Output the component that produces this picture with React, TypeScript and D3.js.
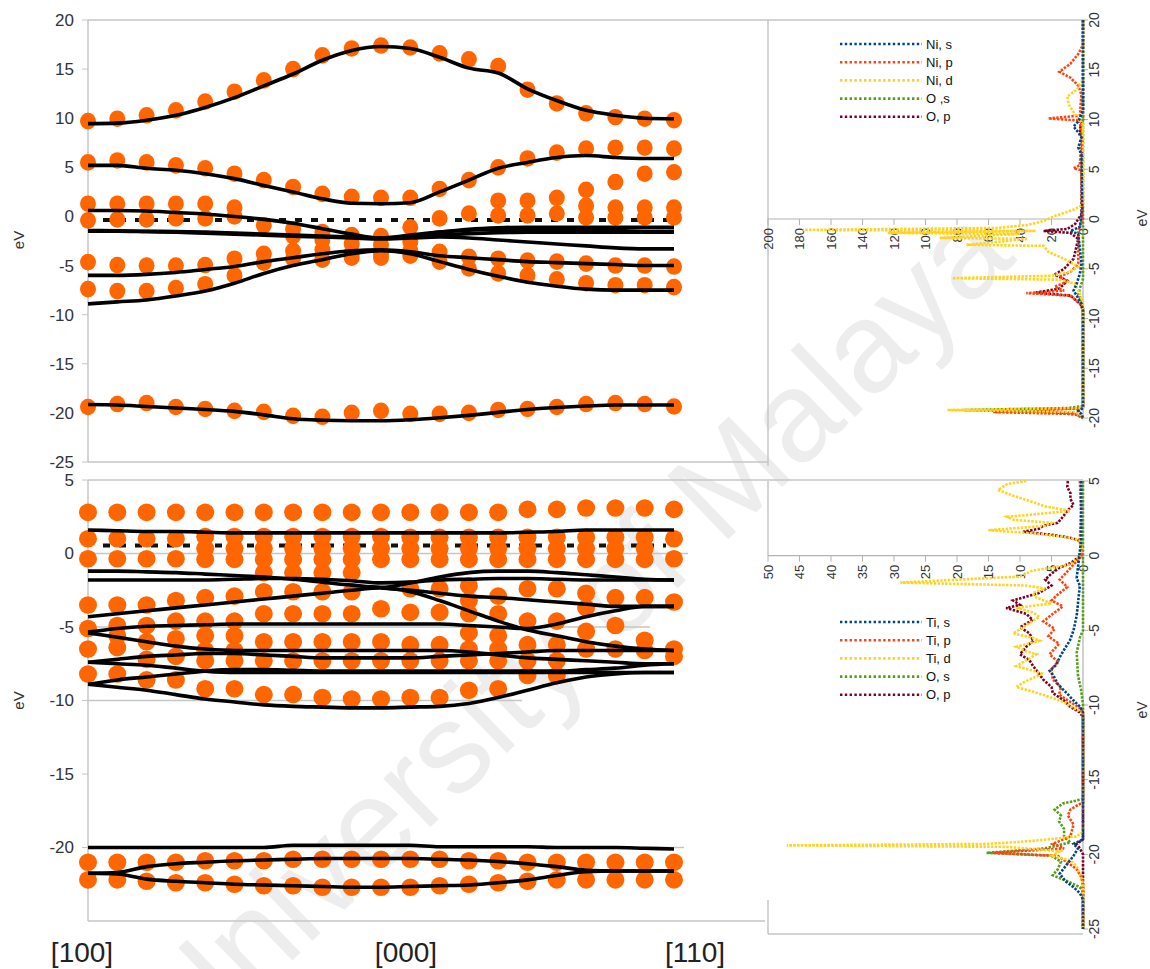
import React from "react";
import * as d3 from "d3";

// ---------------- data ----------------
const pathLabels = ["[100]", "[000]", "[110]"];
const pathLabelX = [82, 406, 695];
const kCount = 21;

const nioTicks = [20, 15, 10, 5, 0, -5, -10, -15, -20, -25];
const tioTicks = [5, 0, -5, -10, -15, -20];

// NiO band structure (top) - orange dots
const nioDotA = [9.7, 9.95, 10.3, 10.8, 11.7, 12.7, 13.85, 15.0, 16.4, 17.1, 17.4, 17.2, 16.6, 16.0, 15.3, 12.9, 11.5, 10.5, 10.1, 9.95, 9.8];
const nioDotB = [5.5, 5.7, 5.5, 5.2, 4.9, 4.35, 3.7, 3.0, 2.3, 2.0, 1.9, 1.9, 2.8, 3.7, 5.0, 5.9, 6.5, 6.9, 7.0, 7.0, 6.9];
const nioDotC = [1.3, 1.3, 1.3, 1.3, 1.3, 0.9, -0.9, -1.3, -1.6, -1.9, -2.0, -1.1, -0.2, 0.3, 1.6, 1.6, 1.9, 2.7, 3.5, 4.35, 4.5];
const nioDotD = [-0.4, -0.3, -0.3, -0.2, -0.2, 0.0, null, -2.0, -2.4, -2.8, -2.9, -2.6, null, null, 0.1, 0.1, 0.3, 1.1, 0.9, 0.9, 0.9];
const nioDotE = [null, null, null, null, null, null, null, null, null, null, null, null, null, null, null, null, null, -0.1, -0.1, -0.1, -0.1];
const nioDotF = [-4.65, -4.95, -5.0, -5.0, -4.95, -4.3, -3.8, -3.5, -3.4, -3.7, -3.7, -3.5, -3.6, -4.1, -4.3, -4.5, -4.6, -4.8, -5.0, -5.0, -5.1];
const nioDotG = [-7.4, -7.6, -7.6, -7.3, -6.9, -6.0, -4.7, -4.3, -4.4, -4.2, -4.2, -4.0, -4.6, -5.3, -5.8, -6.0, -6.4, -6.8, -7.0, -7.0, -7.2];
const nioDotH = [-19.4, -19.1, -19.0, -19.4, -19.6, -19.8, -19.9, -20.3, -20.4, -20.0, -19.8, -20.1, -20.1, -20.0, -19.7, -19.6, -19.4, -19.1, -19.0, -19.1, -19.35];

// NiO band structure (top) - black lines
const nioLineA = [9.45, 9.5, 9.8, 10.3, 11.1, 12.1, 13.3, 14.5, 15.9, 16.9, 17.3, 17.1, 16.2, 15.1, 14.6, 13.0, 11.8, 10.8, 10.3, 10.0, 9.95];
const nioLineB = [5.2, 5.2, 4.9, 4.7, 4.35, 3.85, 3.15, 2.5, 1.8, 1.35, 1.3, 1.4, 2.5, 3.7, 4.9, 5.5, 6.0, 6.2, 6.0, 5.9, 5.9];
const nioLineC = [0.6, 0.6, 0.55, 0.4, 0.25, 0.0, -0.3, -0.7, -1.25, -1.8, -2.2, -2.0, -1.6, -1.3, -1.15, -1.1, -1.1, -1.1, -1.1, -1.1, -1.1];
const nioLineD = [-1.43, -1.45, -1.5, -1.55, -1.6, -1.7, -1.8, -1.9, -2.0, -2.1, -2.2, -2.1, -1.9, -1.75, -1.65, -1.6, -1.6, -1.6, -1.6, -1.6, -1.6];
const nioLineE = [-1.5, -1.5, -1.55, -1.6, -1.7, -1.8, -1.9, -2.0, -2.1, -2.2, -2.3, -2.2, -2.1, -2.2, -2.4, -2.6, -2.8, -3.0, -3.2, -3.3, -3.3];
const nioLineK = [null, null, null, null, null, null, null, null, null, -2.0, -2.2, -1.9, -1.6, -1.4, -1.3, -1.3, -1.35, -1.4, -1.45, -1.5, -1.5];
const nioLineF = [-6.0, -6.0, -5.9, -5.7, -5.4, -5.1, -4.6, -4.2, -3.8, -3.5, -3.4, -3.6, -4.0, -4.2, -4.4, -4.6, -4.7, -4.8, -4.9, -5.0, -5.0];
const nioLineG = [-8.9, -8.7, -8.5, -8.1, -7.6, -6.8, -5.8, -5.0, -4.4, -3.8, -3.5, -3.8, -4.6, -5.4, -6.1, -6.7, -7.1, -7.4, -7.5, -7.5, -7.5];
const nioLineH = [-19.15, -19.2, -19.35, -19.5, -19.65, -19.85, -20.2, -20.6, -20.75, -20.8, -20.8, -20.7, -20.5, -20.25, -19.95, -19.65, -19.45, -19.3, -19.2, -19.2, -19.2];
const nioFermi = -0.35;

// TiO2 band structure (bottom) - orange dots
const tioDotA = [2.8, 2.8, 2.8, 2.8, 2.8, 2.8, 2.8, 2.8, 2.8, 2.8, 2.8, 2.8, 2.8, 2.8, 2.8, 3.0, 3.0, 3.1, 3.1, 3.1, 3.0];
const tioDotB = [1.0, 1.0, 1.0, 1.0, 1.15, 1.15, 1.15, 1.15, 1.15, 1.15, 1.15, 1.1, 1.1, 1.1, 1.1, 1.1, 1.1, 1.1, 1.1, 1.1, 1.0];
const tioDotC = [null, null, null, null, 0.35, 0.35, 0.35, 0.35, 0.35, 0.35, 0.35, 0.35, 0.35, 0.35, 0.35, 0.35, 0.35, 0.35, 0.35, 0.35, null];
const tioDotD = [-0.36, -0.36, -0.36, -0.36, -0.4, -0.4, -0.4, -0.4, -0.4, -0.4, -0.4, -0.4, -0.4, -0.4, -0.4, -0.4, -0.4, -0.4, -0.4, -0.4, -0.36];
const tioDotE = [null, null, null, null, null, null, -1.3, -1.3, -1.3, -1.3, null, null, null, null, null, null, null, null, null, null, null];
const tioDotF = [-3.5, -3.5, -3.5, -3.2, -3.0, -2.9, -2.6, -2.6, -2.6, -2.6, -3.76, -2.4, -2.4, -2.2, -2.9, -2.4, -2.4, -2.7, -3.0, -3.0, -3.3];
const tioDotG = [-5.1, -4.9, -4.9, -4.6, -4.6, -4.6, -4.1, -4.1, -4.1, -4.1, null, -4.0, -4.0, -3.2, -4.1, -4.6, -4.6, -3.7, -4.9, -5.9, -6.5];
const tioDotH = [-6.5, -5.6, -6.0, -5.8, -5.6, -5.6, -6.0, -6.0, -6.0, -6.0, -6.0, -6.2, -6.2, -4.1, -5.6, -6.2, -6.2, -5.3, -6.5, -6.6, -7.0];
const tioDotI = [null, -6.4, -7.2, -7.0, -6.6, -6.6, -7.3, -7.3, -7.3, -7.3, -7.3, -7.3, -7.3, -5.4, -6.5, -7.3, -7.3, -6.5, null, null, null];
const tioDotJ = [-8.2, -8.2, -8.6, -8.6, -7.3, -7.3, -9.6, -9.6, -9.8, -9.9, -9.9, -9.8, -9.8, -6.5, -7.3, -8.3, -8.3, null, null, null, null];
const tioDotK = [null, null, null, null, -9.2, -9.2, null, null, null, null, null, null, null, -7.3, -9.2, null, null, null, null, null, null];
const tioDotL = [null, null, null, null, null, null, null, null, null, null, null, null, null, -9.3, null, null, null, null, null, null, null];
const tioDotM = [-21.0, -21.0, -21.0, -21.0, -20.9, -20.9, -20.9, -20.8, -20.8, -20.8, -20.8, -20.8, -20.8, -20.9, -20.9, -21.0, -21.0, -21.0, -21.0, -21.0, -21.0];
const tioDotN = [-22.2, -22.2, -22.3, -22.4, -22.4, -22.5, -22.6, -22.6, -22.7, -22.7, -22.7, -22.7, -22.6, -22.5, -22.4, -22.3, -22.2, -22.2, -22.2, -22.2, -22.2];

// TiO2 band structure (bottom) - black lines
const tioLine1 = [1.6, 1.55, 1.5, 1.5, 1.45, 1.4, 1.4, 1.4, 1.4, 1.4, 1.4, 1.4, 1.4, 1.4, 1.4, 1.45, 1.5, 1.6, 1.6, 1.6, 1.6];
const tioLine2 = [-1.2, -1.2, -1.25, -1.3, -1.4, -1.5, -1.6, -1.75, -1.95, -2.15, -2.3, -2.0, -1.6, -1.3, -1.2, -1.2, -1.3, -1.45, -1.6, -1.75, -1.8];
const tioLine3 = [-1.8, -1.8, -1.8, -1.8, -1.8, -1.75, -1.7, -1.7, -1.75, -1.85, -2.0, -1.95, -1.8, -1.75, -1.7, -1.7, -1.75, -1.8, -1.8, -1.8, -1.8];
const tioLine4 = [-4.3, -4.1, -3.9, -3.7, -3.5, -3.3, -3.1, -2.9, -2.7, -2.5, -2.35, -2.6, -3.2, -3.9, -4.6, -5.2, -5.6, -6.0, -6.3, -6.5, -6.6];
const tioLine5 = [null, null, null, null, null, null, null, null, null, null, -2.35, -2.5, -2.7, -2.9, -3.0, -3.15, -3.3, -3.45, -3.6, -3.6, -3.6];
const tioLine6 = [-5.35, -5.1, -4.95, -4.9, -4.85, -4.8, -4.8, -4.8, -4.8, -4.8, -4.8, -4.8, -4.8, -4.9, -5.0, -5.1, -4.8, -4.3, -3.9, -3.6, -3.6];
const tioLine7 = [-5.4, -5.7, -6.0, -6.3, -6.5, -6.6, -6.6, -6.6, -6.6, -6.6, -6.6, -6.6, -6.6, -6.7, -6.9, -7.1, -7.2, -7.3, -7.4, -7.5, -7.5];
const tioLine8 = [-7.4, -7.2, -7.0, -6.9, -6.8, -6.8, -6.9, -7.0, -7.1, -7.1, -7.1, -7.1, -7.0, -6.9, -6.8, -6.7, -6.6, -6.6, -6.6, -6.6, -6.6];
const tioLine9 = [-7.4, -7.5, -7.6, -7.8, -8.0, -8.1, -8.1, -8.1, -8.1, -8.1, -8.1, -8.1, -8.1, -8.1, -8.1, -8.1, -8.1, -8.1, -8.1, -8.1, -8.1];
const tioLine10 = [-8.9, -8.6, -8.4, -8.2, -8.0, -7.9, -7.9, -7.95, -8.0, -8.0, -8.0, -8.0, -8.0, -8.0, -8.0, -8.0, -8.0, -7.9, -7.8, -7.6, -7.5];
const tioLine11 = [-8.9, -9.1, -9.3, -9.6, -9.9, -10.1, -10.3, -10.4, -10.45, -10.5, -10.5, -10.45, -10.4, -10.2, -9.8, -9.3, -8.8, -8.4, -8.2, -8.1, -8.1];
const tioLine12 = [-20.0, -20.0, -20.0, -20.0, -20.0, -20.0, -20.0, -19.85, -19.85, -19.85, -19.85, -19.85, -19.95, -19.95, -19.95, -19.95, -20.0, -20.0, -20.0, -20.05, -20.1];
const tioLine13 = [-21.75, -21.7, -21.3, -21.1, -21.0, -20.9, -20.85, -20.8, -20.75, -20.75, -20.75, -20.75, -20.8, -20.85, -20.95, -21.1, -21.3, -21.55, -21.6, -21.6, -21.6];
const tioLine14 = [-21.75, -21.8, -22.15, -22.3, -22.4, -22.5, -22.55, -22.6, -22.65, -22.7, -22.7, -22.65, -22.6, -22.55, -22.4, -22.2, -21.9, -21.65, -21.6, -21.6, -21.6];
const tioFermi = 0.55;

// NiO PDOS (top right) as [eV, DOS]
const nioLegend = ["Ni, s", "Ni, p", "Ni, d", "O ,s", "O, p"];
const nioDosTicks = [200, 180, 160, 140, 120, 100, 80, 60, 40, 20, 0];
const nioEvTicks = [20, 15, 10, 5, 0, -5, -10, -15, -20];
const nioDosNiS = [[20, 0], [11, 0], [10.5, 1], [9.8, 3], [9.3, 6], [8.7, 3], [8.2, 1], [7.2, 3], [6.5, 1], [1, 0.5], [-0.8, 2], [-1.2, 8], [-1.5, 3], [-4.5, 1], [-5.5, 2], [-6.5, 4], [-7.2, 6], [-7.7, 4], [-8.5, 1], [-9.2, 0], [-19, 0], [-19.3, 3], [-19.6, 1], [-20, 0]];
const nioDosNiP = [[20, 0], [17.5, 0], [16.6, 3], [15.6, 8], [14.8, 15], [14.2, 8], [13.4, 3], [12.5, 1], [10.4, 2], [10.1, 22], [9.9, 2], [8, 1], [5.4, 2], [5.1, 6], [4.9, 1], [0, 0.5], [-1.2, 3], [-4.5, 3], [-5.3, 8], [-5.8, 15], [-6.3, 10], [-6.8, 18], [-7.2, 12], [-7.45, 36], [-7.7, 8], [-8.5, 2], [-9.2, 0], [-19, 0], [-19.2, 30], [-19.4, 57], [-19.6, 5], [-20, 0]];
const nioDosNiD = [[20, 0], [14, 0], [13, 4], [12.3, 10], [11.5, 9], [10.5, 5], [9.5, 0], [1.5, 0], [1.0, 5], [0.6, 12], [0.3, 18], [-0.2, 25], [-0.6, 35], [-0.9, 55], [-1.1, 178], [-1.2, 30], [-1.4, 124], [-1.5, 40], [-1.9, 91], [-2.0, 35], [-2.6, 74], [-2.7, 25], [-3.3, 22], [-4.0, 12], [-4.8, 3], [-5.3, 8], [-5.7, 20], [-5.95, 83], [-6.1, 15], [-6.5, 5], [-7.5, 2], [-8.5, 0], [-19, 0], [-19.2, 86], [-19.4, 5], [-19.8, 0], [-20, 0]];
const nioDosOS = [[20, 0], [-6, 0], [-7, 2], [-7.6, 3], [-8.2, 1], [-9, 0], [-18.8, 0], [-19.0, 10], [-19.2, 76], [-19.4, 20], [-19.7, 3], [-20, 0]];
const nioDosOP = [[20, 0], [10, 0], [9, 2], [8, 0.5], [0.5, 1], [-0.5, 5], [-1.0, 10], [-1.2, 25], [-1.4, 8], [-2, 3], [-4, 6], [-5, 12], [-5.6, 18], [-6.2, 10], [-7.0, 15], [-7.4, 30], [-7.7, 8], [-8.5, 2], [-9, 0], [-19, 0], [-19.3, 40], [-19.5, 5], [-20, 0]];

// TiO2 PDOS (bottom right) as [eV, DOS]
const tioLegend = ["Ti, s", "Ti, p", "Ti, d", "O, s", "O, p"];
const tioDosTicks = [50, 45, 40, 35, 30, 25, 20, 15, 10, 5, 0];
const tioEvTicks = [5, 0, -5, -10, -15, -20, -25];
const tioDosTiS = [[5, 0.3], [1, 0.3], [-1.5, 1], [-2, 0.5], [-4, 1], [-5, 1.5], [-5.7, 2.1], [-6.3, 3], [-6.8, 3.7], [-7.3, 4.2], [-7.7, 5.3], [-8.1, 4.6], [-8.6, 4], [-9.2, 2.6], [-9.7, 1.5], [-10.1, 0.5], [-10.5, 0], [-19, 0], [-19.3, 1.5], [-19.6, 0.8], [-20.1, 1.5], [-20.7, 2.6], [-21.3, 3.7], [-21.8, 2.8], [-22.2, 1.5], [-22.6, 0.5], [-23, 0], [-25, 0]];
const tioDosTiP = [[5, 0.5], [3, 0.3], [1, 0.5], [0, 0.2], [-0.6, 1.5], [-1.2, 2.8], [-1.6, 3.7], [-2.1, 2.5], [-2.6, 4], [-3.0, 5], [-3.4, 3.2], [-3.8, 4.5], [-4.4, 6.3], [-4.9, 4.5], [-5.4, 5.5], [-5.9, 3.8], [-6.6, 5.3], [-7.1, 4], [-7.6, 5], [-8.3, 4.8], [-8.8, 3.5], [-9.3, 3.8], [-9.8, 2], [-10.2, 0.5], [-10.5, 0], [-16.5, 0], [-17.0, 2], [-17.4, 2.4], [-18, 1.5], [-18.8, 2], [-19.3, 4.8], [-19.6, 3], [-19.9, 14.3], [-20.1, 4], [-20.5, 2.6], [-21, 1], [-21.5, 0.3], [-22, 0], [-25, 0]];
const tioDosTiD = [[5, 9], [4.8, 12], [4.4, 13.5], [4.0, 11], [3.6, 8], [3.3, 6], [3.0, 2], [2.8, 7], [2.6, 12], [2.4, 11], [2.2, 5], [2.0, 6], [1.7, 15], [1.5, 8], [1.2, 2], [1.0, 0.5], [0.5, 0.2], [0, 0.5], [-0.6, 2], [-1.0, 8], [-1.4, 10], [-1.8, 29], [-2.0, 9], [-2.2, 6], [-2.5, 8], [-2.8, 7.4], [-3.2, 5], [-3.5, 10.6], [-3.8, 8], [-4.1, 6.9], [-4.5, 8.5], [-4.8, 9.5], [-5.2, 11.1], [-5.5, 8], [-5.7, 6.9], [-6.1, 10.6], [-6.4, 9], [-6.6, 7.4], [-7.0, 9], [-7.4, 10.6], [-7.7, 8], [-7.9, 6.3], [-8.2, 8], [-8.5, 9.5], [-8.8, 10.6], [-9.1, 8], [-9.4, 5.8], [-9.8, 3], [-10.1, 2], [-10.4, 0.5], [-10.6, 0], [-18.5, 0], [-18.8, 1], [-19.1, 8], [-19.3, 15], [-19.4, 47], [-19.5, 12], [-19.8, 3.7], [-20.1, 5], [-20.4, 2], [-20.8, 1], [-21.5, 0.3], [-22, 0], [-25, 0]];
const tioDosOS = [[5, 0], [-5, 0], [-5.5, 0.5], [-6.5, 1], [-8, 0.8], [-9, 0.3], [-10, 0], [-16.3, 0], [-16.6, 3.2], [-17.0, 4.5], [-17.4, 3.5], [-17.8, 3.8], [-18.3, 3], [-18.8, 3], [-19.2, 2], [-19.6, 6], [-19.9, 15.3], [-20.1, 5], [-20.5, 3.5], [-21.0, 4], [-21.4, 4.8], [-21.8, 2.5], [-22.2, 0.5], [-22.5, 0], [-25, 0]];
const tioDosOP = [[5, 2.4], [4.6, 2.5], [4.2, 2], [3.8, 2], [3.4, 1.5], [3.0, 2.5], [2.6, 3.2], [2.2, 4], [2.0, 6.3], [1.8, 7], [1.6, 9.5], [1.4, 5], [1.2, 2], [1.0, 0.5], [0.5, 0.3], [0, 0.3], [-0.5, 2], [-0.8, 3.7], [-1.2, 5], [-1.6, 6], [-2.0, 5], [-2.5, 7], [-3.0, 11.1], [-3.3, 10], [-3.5, 12.2], [-3.9, 9], [-4.3, 8], [-4.8, 10], [-5.2, 8.5], [-5.7, 7.9], [-6.1, 9], [-6.6, 10], [-7.0, 8.5], [-7.4, 7.9], [-7.9, 7], [-8.3, 6.3], [-8.8, 5], [-9.2, 4.8], [-9.7, 3], [-10.1, 2.1], [-10.5, 0.5], [-10.8, 0], [-19, 0], [-19.3, 1], [-19.6, 0.5], [-20, 0], [-25, 0]];

const dosColors = ["#004586", "#ff420e", "#ffd320", "#579d1c", "#7e0021"];
const ORANGE = "#ff6600";
const FONT = "Liberation Sans, Arial, sans-serif";
const GRID = "#c6c6c6";

type Pt = number[];

export default function App() {
  const xBand = d3.scaleLinear().domain([0, kCount - 1]).range([88, 674]);
  const yNio = d3.scaleLinear().domain([-25, 20]).range([462, 20]);
  const yTio = d3.scaleLinear().domain([-25, 5]).range([921, 480]);
  const nioDosX = d3.scaleLinear().domain([0, 200]).range([1083, 768]);
  const nioDosY = d3.scaleLinear().domain([-20, 20]).range([418, 20]);
  const tioDosX = d3.scaleLinear().domain([0, 50]).range([1083, 768]);
  const tioDosY = d3.scaleLinear().domain([-25, 5]).range([929, 481]);

  const bandPath = (vals: (number | null)[], y: d3.ScaleLinear<number, number>) =>
    d3
      .line<number | null>()
      .defined((d) => d != null)
      .x((_, i) => xBand(i))
      .y((d) => y(d as number))
      .curve(d3.curveMonotoneX)(vals) || "";

  const dosPath = (pts: Pt[], sx: any, sy: any) =>
    d3
      .line<Pt>()
      .x((d) => sx(d[1]))
      .y((d) => sy(d[0]))(pts) || "";

  const dots = (vals: (number | null)[], y: any, rx: number, ry: number, key: string) =>
    vals.map((v, i) =>
      v == null ? null : (
        <ellipse key={key + i} cx={xBand(i)} cy={y(v)} rx={rx} ry={ry} fill={ORANGE} />
      )
    );

  const nioDots = [nioDotA, nioDotB, nioDotC, nioDotD, nioDotE, nioDotF, nioDotG, nioDotH];
  const nioLines = [nioLineA, nioLineB, nioLineC, nioLineD, nioLineE, nioLineK, nioLineF, nioLineG, nioLineH];
  const tioDots = [tioDotA, tioDotB, tioDotC, tioDotD, tioDotE, tioDotF, tioDotG, tioDotH, tioDotI, tioDotJ, tioDotK, tioDotL, tioDotM, tioDotN];
  const tioLines = [tioLine1, tioLine2, tioLine3, tioLine4, tioLine5, tioLine6, tioLine7, tioLine8, tioLine9, tioLine10, tioLine11, tioLine12, tioLine13, tioLine14];

  const nioDos = [nioDosNiS, nioDosNiP, nioDosNiD, nioDosOS, nioDosOP];
  const tioDos = [tioDosTiS, tioDosTiP, tioDosTiD, tioDosOS, tioDosOP];
  const drawOrder = [4, 3, 1, 2, 0];

  const axisText = { fontFamily: FONT, fontSize: 17, fill: "#333" } as any;
  const dosText = { fontFamily: FONT, fontSize: 13, fill: "#333" } as any;

  const renderDos = (
    series: Pt[][],
    sx: any,
    sy: any,
    dosTicks: number[],
    evTicks: number[],
    legend: string[],
    legendY: number,
    evTitleY: number,
    key: string
  ) => {
    const y0 = sy(0);
    const [evTop, evBot] = [sy(evTicks[0]), sy(evTicks[evTicks.length - 1])];
    return (
      <g key={key}>
        <line x1={sx(dosTicks[0])} x2={sx(0)} y1={y0} y2={y0} stroke="#b3b3b3" strokeWidth={1.2} />
        {dosTicks.map((t) => (
          <g key={key + "dt" + t}>
            <line x1={sx(t)} x2={sx(t)} y1={y0} y2={y0 + 6} stroke="#b3b3b3" strokeWidth={1} />
            <text
              transform={`translate(${sx(t)},${y0 + 9}) rotate(-90)`}
              textAnchor="end"
              dy="0.35em"
              style={dosText}
            >
              {t}
            </text>
          </g>
        ))}
        <line x1={sx(0)} x2={sx(0)} y1={evTop} y2={evBot} stroke="#b3b3b3" strokeWidth={1.2} />
        {evTicks.map((t) => (
          <g key={key + "et" + t}>
            <line x1={sx(0)} x2={sx(0) + 5} y1={sy(t)} y2={sy(t)} stroke="#b3b3b3" strokeWidth={1} />
            <text
              transform={`translate(${sx(0) + 11},${sy(t)}) rotate(-90)`}
              textAnchor="middle"
              dy="0.35em"
              style={{ ...dosText, fontSize: 14 }}
            >
              {t}
            </text>
          </g>
        ))}
        <text
          transform={`translate(1142,${evTitleY}) rotate(-90)`}
          textAnchor="middle"
          dy="0.35em"
          style={{ ...dosText, fontSize: 14 }}
        >
          eV
        </text>
        {drawOrder.map((si) => (
          <path
            key={key + "c" + si}
            d={dosPath(series[si], sx, sy)}
            fill="none"
            stroke={dosColors[si]}
            strokeWidth={2.6}
            strokeDasharray="2.4,1.4"
          />
        ))}
        {legend.map((name, i) => (
          <g key={key + "lg" + i}>
            <line
              x1={840}
              x2={922}
              y1={legendY + i * 18.2}
              y2={legendY + i * 18.2}
              stroke={dosColors[i]}
              strokeWidth={2.6}
              strokeDasharray="2.4,2.4"
            />
            <text x={926} y={legendY + i * 18.2} dy="0.35em" style={{ fontFamily: FONT, fontSize: 13, fill: "#111" }}>
              {name}
            </text>
          </g>
        ))}
      </g>
    );
  };

  return (
    <svg
      width={1150}
      height={969}
      style={{ position: "absolute", left: 0, top: 0, background: "#fff" }}
      xmlns="http://www.w3.org/2000/svg"
    >
      <rect x={0} y={0} width={1150} height={969} fill="#fff" />

      {/* watermark (partly outside the page, as in the source) */}
      <text
        transform="translate(572,628) rotate(-44)"
        textAnchor="middle"
        dy="0.35em"
        style={{ fontFamily: FONT, fontSize: 128, fill: "#ededed" }}
      >
        University of Malaya
      </text>

      {/* top band panel frame */}
      <line x1={88} x2={1083} y1={yNio(20)} y2={yNio(20)} stroke={GRID} strokeWidth={1.5} />
      <line x1={88} x2={768} y1={yNio(-25)} y2={yNio(-25)} stroke={GRID} strokeWidth={1.5} />
      <line x1={88} x2={88} y1={yNio(20)} y2={yNio(-25)} stroke={GRID} strokeWidth={1.5} />
      <line x1={768} x2={768} y1={yNio(20)} y2={466} stroke={GRID} strokeWidth={1.5} />
      {nioTicks.map((t) => (
        <g key={"nt" + t}>
          <line x1={82} x2={88} y1={yNio(t)} y2={yNio(t)} stroke={GRID} strokeWidth={1} />
          <text x={74} y={yNio(t)} dy="0.35em" textAnchor="end" style={axisText}>
            {t}
          </text>
        </g>
      ))}
      <text transform="translate(19,240) rotate(-90)" textAnchor="middle" dy="0.35em" style={{ ...axisText, fontSize: 15 }}>
        eV
      </text>

      {/* bottom band panel frame */}
      <line x1={88} x2={1083} y1={yTio(5)} y2={yTio(5)} stroke={GRID} strokeWidth={1.5} />
      <line x1={88} x2={688} y1={yTio(0)} y2={yTio(0)} stroke={GRID} strokeWidth={1.5} />
      <line x1={88} x2={650} y1={yTio(-5)} y2={yTio(-5)} stroke={GRID} strokeWidth={1.5} />
      <line x1={88} x2={522} y1={yTio(-10)} y2={yTio(-10)} stroke={GRID} strokeWidth={1.5} />
      <line x1={88} x2={684} y1={yTio(-20)} y2={yTio(-20)} stroke={GRID} strokeWidth={1.5} />
      <line x1={88} x2={765} y1={yTio(-25)} y2={yTio(-25)} stroke={GRID} strokeWidth={1.5} />
      <line x1={88} x2={88} y1={yTio(5)} y2={yTio(-25)} stroke={GRID} strokeWidth={1.5} />
      <line x1={768} x2={768} y1={tioDosY(5)} y2={tioDosY(0)} stroke={GRID} strokeWidth={1.5} />
      <line x1={768} x2={768} y1={900} y2={934} stroke={GRID} strokeWidth={1.5} />
      <line x1={768} x2={1083} y1={934} y2={934} stroke={GRID} strokeWidth={1.5} />
      {tioTicks.map((t) => (
        <g key={"tt" + t}>
          <line x1={82} x2={88} y1={yTio(t)} y2={yTio(t)} stroke={GRID} strokeWidth={1} />
          <text x={74} y={yTio(t)} dy="0.35em" textAnchor="end" style={axisText}>
            {t}
          </text>
        </g>
      ))}
      <text transform={`translate(19,${yTio(-10)}) rotate(-90)`} textAnchor="middle" dy="0.35em" style={{ ...axisText, fontSize: 15 }}>
        eV
      </text>

      {/* Fermi level dashed lines */}
      <line x1={103} x2={676} y1={yNio(nioFermi)} y2={yNio(nioFermi)} stroke="#111" strokeWidth={4} strokeDasharray="7,9" />
      <line x1={103} x2={666} y1={yTio(tioFermi)} y2={yTio(tioFermi)} stroke="#111" strokeWidth={4} strokeDasharray="7,9" />

      {/* orange dots */}
      {nioDots.map((s, k) => dots(s, yNio, 8, 8.3, "nd" + k))}
      {tioDots.map((s, k) => dots(s, yTio, 9, 8.8, "td" + k))}

      {/* black band lines */}
      {nioLines.map((s, k) => (
        <path key={"nl" + k} d={bandPath(s, yNio)} fill="none" stroke="#000" strokeWidth={3.6} strokeLinejoin="round" />
      ))}
      {tioLines.map((s, k) => (
        <path key={"tl" + k} d={bandPath(s, yTio)} fill="none" stroke="#000" strokeWidth={3.6} strokeLinejoin="round" />
      ))}

      {/* path labels */}
      {pathLabels.map((l, i) => (
        <text key={"pl" + i} x={pathLabelX[i]} y={962} textAnchor="middle" style={{ fontFamily: FONT, fontSize: 28, fill: "#222" }}>
          {l}
        </text>
      ))}

      {/* DOS panels */}
      {renderDos(nioDos, nioDosX, nioDosY, nioDosTicks, nioEvTicks, nioLegend, 44, 218, "nio")}
      {renderDos(tioDos, tioDosX, tioDosY, tioDosTicks, tioEvTicks, tioLegend, 622, 710, "tio")}
    </svg>
  );
}
